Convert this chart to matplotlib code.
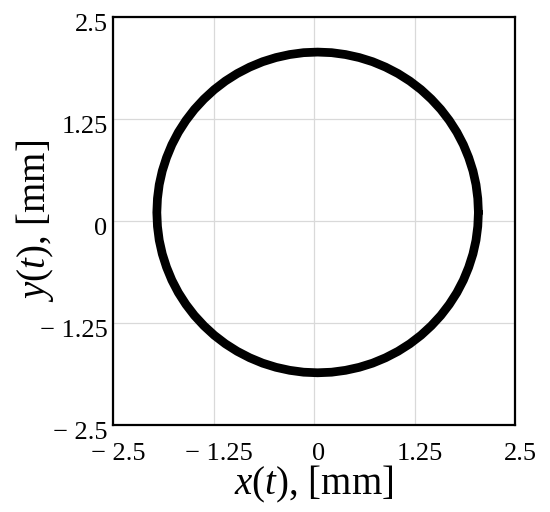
import matplotlib
matplotlib.use("Agg")
import matplotlib.pyplot as plt
import matplotlib.transforms as mtransforms

# Trajectory points (mm)
x_vals = [2.045, 2.037, 2.015, 1.977, 1.924, 1.858, 1.777, 1.683, 1.577, 1.459,
          1.331, 1.192, 1.045, 0.890, 0.729, 0.563, 0.392, 0.219, 0.045,
          -0.129, -0.302, -0.473, -0.639, -0.800, -0.955, -1.102, -1.241, -1.369,
          -1.487, -1.593, -1.687, -1.768, -1.834, -1.887, -1.925, -1.947, -1.955,
          -1.947, -1.925, -1.887, -1.834, -1.768, -1.687, -1.593, -1.487, -1.369,
          -1.241, -1.102, -0.955, -0.800, -0.639, -0.473, -0.302, -0.129, 0.045,
          0.219, 0.392, 0.563, 0.729, 0.890, 1.045, 1.192, 1.331, 1.459,
          1.577, 1.683, 1.777, 1.858, 1.924, 1.977, 2.015, 2.037, 2.045]
y_vals = [0.105, 0.276, 0.446, 0.614, 0.777, 0.935, 1.088, 1.232, 1.368, 1.494,
          1.610, 1.715, 1.807, 1.886, 1.952, 2.003, 2.040, 2.063, 2.070,
          2.063, 2.040, 2.003, 1.952, 1.886, 1.807, 1.715, 1.610, 1.494,
          1.368, 1.232, 1.088, 0.935, 0.777, 0.614, 0.446, 0.276, 0.105,
          -0.066, -0.236, -0.404, -0.567, -0.725, -0.878, -1.022, -1.158, -1.284,
          -1.400, -1.505, -1.597, -1.676, -1.742, -1.793, -1.830, -1.853, -1.860,
          -1.853, -1.830, -1.793, -1.742, -1.676, -1.597, -1.505, -1.400, -1.284,
          -1.158, -1.022, -0.878, -0.725, -0.567, -0.404, -0.236, -0.066, 0.105]

ticks = [-2.5, -1.25, 0, 1.25, 2.5]
tick_labels = ["\u2212 2.5", "\u2212 1.25", "0", "1.25", "2.5"]

plt.rcParams['font.family'] = ['Liberation Serif', 'DejaVu Serif']
plt.rcParams['mathtext.fontset'] = 'custom'
plt.rcParams['mathtext.it'] = 'Liberation Serif:italic'
plt.rcParams['mathtext.rm'] = 'Liberation Serif'

fig = plt.figure(figsize=(5.5, 5.12), dpi=100)
ax = fig.add_axes([113/550, 87/512, 402/550, 408/512])

ax.plot(x_vals, y_vals, color='black', lw=6.3, solid_joinstyle='round',
        solid_capstyle='round')

ax.set_xlim(-2.5, 2.5)
ax.set_ylim(-2.5, 2.5)
ax.set_xticks(ticks)
ax.set_yticks(ticks)
ax.set_xticklabels(tick_labels)
ax.set_yticklabels(tick_labels)
ax.tick_params(length=0, labelsize=19, colors='black')
ax.tick_params(axis='x', pad=13)
ax.tick_params(axis='y', pad=4)
for lab in ax.get_yticklabels():
    lab.set_verticalalignment('top')
    lab.set_transform(lab.get_transform() + mtransforms.ScaledTranslation(0, 3/100, fig.dpi_scale_trans))
for lab in ax.get_xticklabels():
    lab.set_transform(lab.get_transform() + mtransforms.ScaledTranslation(5/100, 0, fig.dpi_scale_trans))

ax.grid(True, color='#d9d9d9', lw=0.9)
ax.set_axisbelow(True)
for s in ax.spines.values():
    s.set_linewidth(1.6)
    s.set_color('black')

ax.set_xlabel(r'$\mathit{x(t)}$, [mm]', fontsize=28, labelpad=-1)
ax.set_ylabel(r'$\mathit{y(t)}$, [mm]', fontsize=28, labelpad=-12)

fig.savefig('out.png', dpi=100)
